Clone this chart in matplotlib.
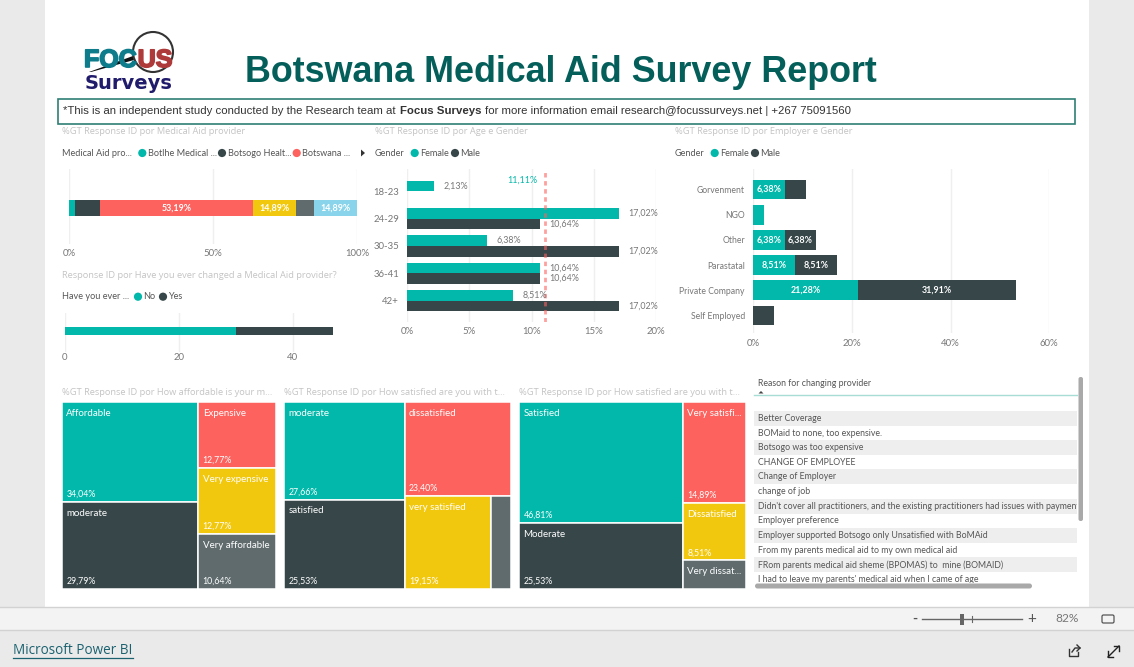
"""Botswana Medical Aid Survey Report - Power BI page redrawn with matplotlib."""

import matplotlib
matplotlib.use('Agg')
import matplotlib.patheffects as pe
import matplotlib.pyplot as plt
import numpy as np
from matplotlib.patches import Circle, FancyBboxPatch, Polygon, Rectangle

W, H = 1134, 667

TEAL = '#01B8AA'
DARK = '#374649'
RED = '#FD625E'
YELLOW = '#F2C80F'
GRAY = '#5F6B6D'
BLUE = '#8AD4EB'

# provider chart
provider_values = [2.13, 8.51, 53.19, 14.89, 6.38, 14.89]
provider_colors = [TEAL, DARK, RED, YELLOW, GRAY, BLUE]

# changed provider chart
changed_values = [30, 17]
changed_colors = [TEAL, DARK]

# age chart
ages = ['18-23', '24-29', '30-35', '36-41', '42+']
age_female = [2.13, 17.02, 6.38, 10.64, 8.51]
age_male = [np.nan, 10.64, 17.02, 10.64, 17.02]
age_average = 11.11

# employer chart
employers = ['Gorvenment', 'NGO', 'Other', 'Parastatal', 'Private Company', 'Self Employed']
employer_female = [6.38, 2.13, 6.38, 8.51, 21.28, 0]
employer_male = [4.26, 0, 6.38, 8.51, 31.91, 4.26]

# treemaps, layout is a nested list of indexes
afford_names = ['Affordable', 'moderate', 'Expensive', 'Very expensive', 'Very affordable']
afford_values = [34.04, 29.79, 12.77, 12.77, 10.64]
afford_colors = [TEAL, DARK, RED, YELLOW, GRAY]
afford_layout = [[0, 1], [2, 3, 4]]

satis1_names = ['moderate', 'satisfied', 'dissatisfied', 'very satisfied', '']
satis1_values = [27.66, 25.53, 23.40, 19.15, 4.26]
satis1_colors = [TEAL, DARK, RED, YELLOW, GRAY]
satis1_layout = [[0, 1], [2, [3, 4]]]

satis2_names = ['Satisfied', 'Moderate', 'Very satisfi...', 'Dissatisfied', 'Very dissat...']
satis2_values = [46.81, 25.53, 14.89, 8.51, 4.26]
satis2_colors = [TEAL, DARK, RED, YELLOW, GRAY]
satis2_layout = [[0, 1], [2, 3, 4]]

reasons = [
    'Better Coverage',
    'BOMaid to none, too expensive.',
    'Botsogo was too expensive',
    'CHANGE OF EMPLOYEE',
    'Change of Employer',
    'change of job',
    "Didn't cover all practitioners, and the existing practitioners had issues with payments",
    'Employer preference',
    'Employer supported Botsogo only Unsatisfied with BoMAid',
    'From my parents medical aid to my own medical aid',
    'FRom parents medical aid sheme (BPOMAS) to  mine (BOMAID)',
    "I had to leave my parents' medical aid when I came of age",
]

plt.rcParams['font.family'] = ['Lato', 'DejaVu Sans']

TITLE_C = '#C4C4C4'
LEGEND_C = '#555555'
AXIS_C = '#777777'
GRID_C = '#EFEFEF'
FS = 6.9
LEGEND_FS = 6.6
CAT_FS = 6.2
TABLE_FS = 6.3
LABEL_FS = 6.4


def pct(v):
    return f'{v:.2f}%'.replace('.', ',')


def px_axes(fig, x0, y0, x1, y1):
    """Axes placed with pixel coordinates, y measured from the top."""
    ax = fig.add_axes([x0 / W, 1 - y1 / H, (x1 - x0) / W, (y1 - y0) / H])
    ax.patch.set_alpha(0)
    for s in ax.spines.values():
        s.set_visible(False)
    return ax


def style_value_axis(ax, ticks, labels, pad):
    ax.set_xticks(ticks)
    ax.set_xticklabels(labels, fontsize=FS, color=AXIS_C)
    ax.tick_params(axis='x', length=0, pad=pad)
    ax.grid(True, axis='x', color=GRID_C, lw=1)
    ax.set_axisbelow(True)


def legend(bg, y, title, x_title, items):
    bg.text(x_title, y, title, fontsize=LEGEND_FS, color=LEGEND_C, va='center')
    for dot_x, color, label in items:
        bg.add_patch(Circle((dot_x, y), 4.1, color=color, lw=0))
        bg.text(dot_x + 5.5, y, label, fontsize=LEGEND_FS, color=LEGEND_C, va='center')


def chart_title(bg, x, y, text):
    bg.text(x, y, text, fontsize=6.7, family='Open Sans', color=TITLE_C, va='center')


def draw_page(bg):
    bg.add_patch(Rectangle((0, 0), W, H, color='#EAEAEA', lw=0))
    bg.add_patch(Rectangle((45, 0), 1044, 607, color='white', lw=0))
    bg.add_patch(Rectangle((0, 607), W, 23, color='#F3F3F3', lw=0))
    bg.plot([0, W], [607, 607], color='#D2D2D2', lw=1)
    bg.plot([0, W], [630, 630], color='#D2D2D2', lw=1)

    # logo
    thick = [pe.withStroke(linewidth=1.2, foreground='#0F7C8C')]
    bg.text(84, 60, 'FOC', fontsize=18, fontweight='bold', family='Liberation Sans',
            color='#0F7C8C', va='center', ha='left', path_effects=thick)
    bg.add_patch(Polygon([[89, 72], [133, 56], [134, 60], [91, 72]], color='#111111', lw=0))
    bg.add_patch(Circle((153, 52), 20, facecolor='none', edgecolor='#333333', lw=1.5))
    thick = [pe.withStroke(linewidth=1.2, foreground='#AF3A3A')]
    bg.text(155, 60, 'US', fontsize=18, fontweight='bold', family='Liberation Sans',
            color='#AF3A3A', va='center', ha='center', path_effects=thick)
    bg.text(129, 83.5, 'Surveys', fontsize=14, fontweight='bold', family='DejaVu Sans',
            color='#201B6B', va='center', ha='center')

    bg.text(561, 73, 'Botswana Medical Aid Survey Report', fontsize=25.85, fontweight='bold',
            family='Liberation Sans', color='#045E5A', ha='center', va='center')

    # note box
    bg.add_patch(Rectangle((58, 98.5), 1017, 25, facecolor='white', edgecolor='#2F7F74', lw=1.2))
    note_font = dict(fontsize=8.22, family='Liberation Sans', color='#333333', va='center')
    bg.text(63, 111, '*This is an independent study conducted by the Research team at', **note_font)
    bg.text(399.5, 111, 'Focus Surveys', fontweight='bold', **note_font)
    bg.text(485, 111, 'for more information email research@focussurveys.net | +267 75091560', **note_font)

    # zoom bar
    bg.plot([922, 1022], [619, 619], color='#666666', lw=1)
    bg.plot([972, 972], [616, 622], color='#666666', lw=0.8)
    bg.add_patch(Rectangle((960, 614), 4, 11, color='#666666', lw=0))
    bg.text(915, 618.5, '-', fontsize=10, fontweight='bold', color='#555555', ha='center', va='center')
    bg.text(1032, 618.5, '+', fontsize=11, color='#555555', ha='center', va='center')
    bg.text(1067, 619, '82%', fontsize=8.6, color='#777777', ha='center', va='center')
    bg.add_patch(FancyBboxPatch((1102, 615), 12, 8, boxstyle='round,pad=0,rounding_size=1.5',
                                facecolor='none', edgecolor='#555555', lw=0.9))

    # footer
    bg.text(13, 651, 'Microsoft Power BI', fontsize=9.75, family='Open Sans', color='#1B6270', va='center')
    bg.plot([13, 133], [658, 658], color='#1B6270', lw=0.9)
    bg.plot([1069, 1069, 1078, 1078], [649, 656, 656, 652], color='#333333', lw=1)
    bg.plot([1072, 1075, 1080], [652, 648, 648], color='#333333', lw=1)
    bg.plot([1077, 1080, 1077], [645, 648, 651], color='#333333', lw=1)
    bg.plot([1108, 1119], [657, 646], color='#222222', lw=1)
    bg.plot([1108, 1108, 1113], [651, 657, 657], color='#222222', lw=1)
    bg.plot([1114, 1119, 1119], [646, 646, 651], color='#222222', lw=1)


def draw_provider(fig):
    ax = px_axes(fig, 69, 169, 357, 244)
    left = 0
    for v, c in zip(provider_values, provider_colors):
        ax.barh(0, v, left=left, height=1, color=c, lw=0)
        if v > 10:
            ax.text(left + v / 2, 0, pct(v), color='white', fontsize=LABEL_FS, fontweight='bold',
                    ha='center', va='center')
        left += v
    ax.set_xlim(0, 100)
    ax.set_ylim(-2.25, 2.44)
    ax.set_yticks([])
    style_value_axis(ax, [0, 50, 100], ['0%', '50%', '100%'], 3.5)


def draw_changed(fig):
    ax = px_axes(fig, 64.7, 313, 332.7, 352)
    left = 0
    for v, c in zip(changed_values, changed_colors):
        ax.barh(0, v, left=left, height=1, color=c, lw=0)
        left += v
    ax.set_xlim(0, sum(changed_values))
    ax.set_ylim(2.6, -2.25)
    ax.set_yticks([])
    style_value_axis(ax, [0, 20, 40], ['0', '20', '40'], 0.7)


def draw_age(fig):
    ax = px_axes(fig, 407.3, 169, 656, 322)
    y = np.arange(len(ages))
    h = 0.388
    ax.barh(y - h / 2, age_female, height=h, color=TEAL, lw=0)
    ax.barh(y + h / 2, age_male, height=h, color=DARK, lw=0)
    for i in y:
        for v, off in ((age_female[i], -h / 2), (age_male[i], h / 2)):
            if not np.isnan(v):
                ax.annotate(pct(v), (v, i + off), xytext=(7, 0), textcoords='offset points',
                            fontsize=LABEL_FS, color=AXIS_C, va='center')
    ax.axvline(age_average, color=RED, alpha=0.6, lw=2, ls=(0, (1.6, 1.3)))
    ax.annotate(pct(age_average), (age_average, -0.41), xytext=(-6, 0), textcoords='offset points',
                fontsize=LABEL_FS, color=TEAL, ha='right', va='center')
    ax.set_xlim(0, 20)
    ax.set_ylim(4.78, -0.815)
    ax.set_yticks(y)
    ax.set_yticklabels(ages, fontsize=FS, color=AXIS_C)
    ax.tick_params(axis='y', length=0, pad=6)
    style_value_axis(ax, [0, 5, 10, 15, 20], ['0%', '5%', '10%', '15%', '20%'], 3.5)


def draw_employer(fig):
    ax = px_axes(fig, 753.3, 169, 1049.3, 333)
    y = np.arange(len(employers))
    h = 0.785
    ax.barh(y, employer_female, height=h, color=TEAL, lw=0)
    ax.barh(y, employer_male, left=employer_female, height=h, color=DARK, lw=0)
    for i in y:
        f, m = employer_female[i], employer_male[i]
        if f > 5:
            ax.text(f / 2, i, pct(f), color='white', fontsize=LABEL_FS, fontweight='bold', ha='center', va='center')
        if m > 5:
            ax.text(f + m / 2, i, pct(m), color='white', fontsize=LABEL_FS, fontweight='bold', ha='center', va='center')
    ax.set_xlim(0, 60)
    ax.set_ylim(5.69, -0.813)
    ax.set_yticks(y)
    ax.set_yticklabels(employers, fontsize=CAT_FS, color=AXIS_C)
    ax.tick_params(axis='y', length=0, pad=6)
    style_value_axis(ax, [0, 20, 40, 60], ['0%', '20%', '40%', '60%'], 4.5)


def node_total(node, values):
    if isinstance(node, list):
        return sum(node_total(n, values) for n in node)
    return values[node]


def split_nodes(ax, nodes, values, colors, names, x, y, w, h, across):
    """Slice the rectangle over nodes, turning direction at every level."""
    total = sum(node_total(n, values) for n in nodes)
    for n in nodes:
        share = node_total(n, values) / total
        nw, nh = (w * share, h) if across else (w, h * share)
        if isinstance(n, list):
            split_nodes(ax, n, values, colors, names, x, y, nw, nh, not across)
        else:
            ax.add_patch(Rectangle((x, y), nw, nh, facecolor=colors[n], edgecolor='white', lw=1.1))
            if names[n]:
                ax.annotate(names[n], (x, y), xytext=(3, -8.2), textcoords='offset points',
                            fontsize=7.0, color='white', va='center')
            if values[n] > 8:
                ax.annotate(pct(values[n]), (x, y + nh), xytext=(3, 5.5), textcoords='offset points',
                            fontsize=6.3, color='white', va='center')
        if across:
            x += nw
        else:
            y += nh


def draw_treemap(fig, x0, x1, names, values, colors, layout):
    ax = px_axes(fig, x0, 402.3, x1, 589.3)
    ax.set_xlim(0, 1)
    ax.set_ylim(1, 0)
    ax.set_xticks([])
    ax.set_yticks([])
    split_nodes(ax, layout, values, colors, names, 0, 0, 1, 1, True)


def draw_table(fig, bg):
    bg.text(758, 384, 'Reason for changing provider', fontsize=TABLE_FS, color=LEGEND_C, va='center')
    bg.add_patch(Polygon([[758.5, 393.5], [763.5, 393.5], [761, 391]], color='#444444', lw=0))
    bg.plot([754, 1077], [395.3, 395.3], color='#A8DDD6', lw=1)

    ax = px_axes(fig, 754, 396, 1077, 583)
    ax.set_xlim(754, 1077)
    ax.set_ylim(583, 396)
    ax.set_xticks([])
    ax.set_yticks([])
    for i, reason in enumerate(reasons):
        yc = 418.4 + i * 14.65
        if i % 2 == 0:
            ax.add_patch(Rectangle((754, yc - 7.5), 323, 15, color='#EEEEEE', lw=0))
        ax.text(758, yc, reason, fontsize=TABLE_FS, color=LEGEND_C, va='center', clip_on=True)

    bg.add_patch(FancyBboxPatch((1078.5, 377), 4.5, 144, boxstyle='round,pad=0,rounding_size=2',
                                color='#A9A9A9', lw=0))
    bg.add_patch(FancyBboxPatch((755, 583.5), 277, 5, boxstyle='round,pad=0,rounding_size=2.5',
                                color='#A9A9A9', lw=0))


def main():
    fig = plt.figure(figsize=(W / 100, H / 100), dpi=100)
    bg = fig.add_axes([0, 0, 1, 1])
    bg.set_xlim(0, W)
    bg.set_ylim(H, 0)
    bg.axis('off')

    draw_page(bg)

    chart_title(bg, 62, 131.5, '%GT Response ID por Medical Aid provider')
    chart_title(bg, 62, 275.7, 'Response ID por Have you ever changed a Medical Aid provider?')
    chart_title(bg, 375, 131.5, '%GT Response ID por Age e Gender')
    chart_title(bg, 675, 131.5, '%GT Response ID por Employer e Gender')
    chart_title(bg, 62, 392.7, '%GT Response ID por How affordable is your m...')
    chart_title(bg, 284, 392.7, '%GT Response ID por How satisfied are you with t...')
    chart_title(bg, 519, 392.7, '%GT Response ID por How satisfied are you with t...')

    # legends
    legend(bg, 153, 'Medical Aid pro...', 62, [
        (142.3, TEAL, 'Botlhe Medical ...'),
        (222, DARK, 'Botsogo Healt...'),
        (296.7, RED, 'Botswana ...'),
    ])
    bg.add_patch(Polygon([[361, 149.5], [361, 156.5], [365, 153]], color='#333333', lw=0))
    legend(bg, 296.7, 'Have you ever ...', 62, [(138, TEAL, 'No'), (163, DARK, 'Yes')])
    legend(bg, 153, 'Gender', 375, [(414.7, TEAL, 'Female'), (455, DARK, 'Male')])
    legend(bg, 153, 'Gender', 675, [(714.7, TEAL, 'Female'), (755, DARK, 'Male')])

    draw_provider(fig)
    draw_changed(fig)
    draw_age(fig)
    draw_employer(fig)
    draw_treemap(fig, 62.3, 275.7, afford_names, afford_values, afford_colors, afford_layout)
    draw_treemap(fig, 284.3, 510.7, satis1_names, satis1_values, satis1_colors, satis1_layout)
    draw_treemap(fig, 519.3, 745.7, satis2_names, satis2_values, satis2_colors, satis2_layout)
    draw_table(fig, bg)

    fig.savefig('out.png', dpi=100)
    plt.close(fig)


if __name__ == '__main__':
    main()
